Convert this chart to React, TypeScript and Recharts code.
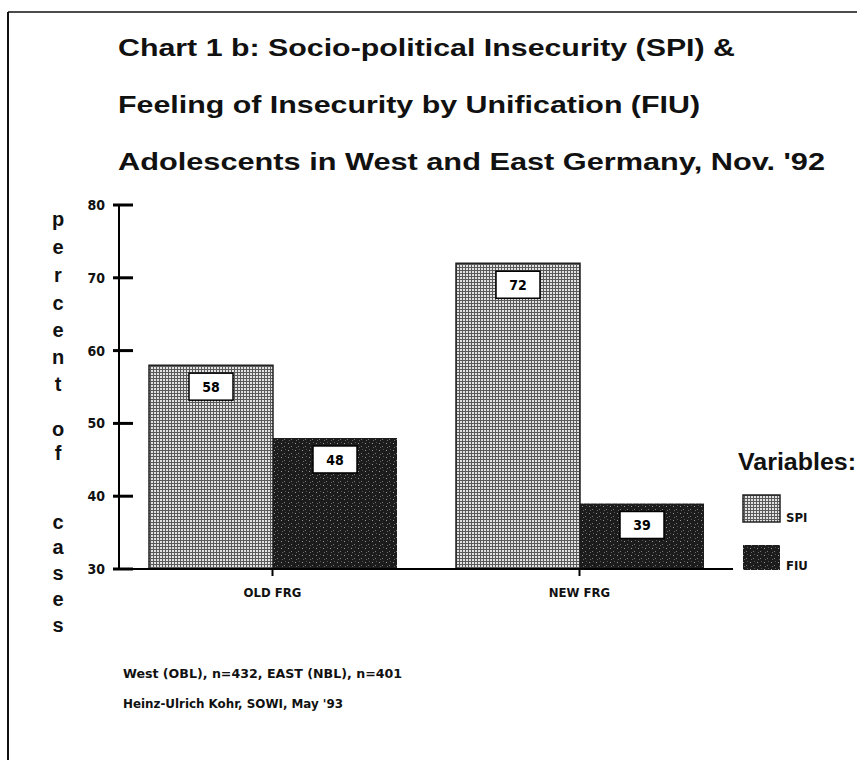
import React from "react";
import { BarChart, Bar, XAxis, YAxis, LabelList } from "recharts";

// values
const categories = ["OLD FRG", "NEW FRG"];
const spiValues = [58, 72];
const fiuValues = [48, 39];
const yTicks = [30, 40, 50, 60, 70, 80];

const titleLines = [
  "Chart 1 b: Socio-political Insecurity (SPI) &",
  "Feeling of Insecurity by Unification (FIU)",
  "Adolescents in West and East Germany, Nov. '92",
];
const titleWidths = [617, 582, 707];
const titleBaselines = [56, 113, 170];
const yLabelLetters = ["p", "e", "r", "c", "e", "n", "t", "o", "f", "c", "a", "s", "e", "s"];
const yLabelPos = [220, 248, 276, 304, 331, 358, 385, 430, 454, 523, 548, 574, 600, 626];
const notes = ["West (OBL), n=432, EAST (NBL), n=401", "Heinz-Ulrich Kohr, SOWI, May '93"];
const noteWidths = [279, 220];

const data = categories.map((name, i) => ({ name, SPI: spiValues[i], FIU: fiuValues[i] }));

const narrow = "'Liberation Sans Narrow', 'DejaVu Sans Condensed', sans-serif";
const bold = "'Liberation Sans', Arial, sans-serif";

const YTick = (props: any) => {
  const { x, y, payload } = props;
  return (
    <g>
      <line x1={x - 6} x2={x + 14} y1={y} y2={y} stroke="#000" strokeWidth={3} />
      <text x={x - 14} y={y} dy={5} textAnchor="end" fontFamily={narrow} fontWeight="bold" fontSize={14} fill="#111">
        {payload.value}
      </text>
    </g>
  );
};

const ValueBox = (props: any) => {
  const { x, y, width, value } = props;
  const cx = x + width / 2;
  return (
    <g>
      <rect x={cx - 22} y={y + 8} width={44} height={27} fill="#fff" stroke="#000" strokeWidth={1.5} />
      <text x={cx} y={y + 22} dy={5} textAnchor="middle" fontFamily={narrow} fontWeight="bold" fontSize={14} fill="#000">
        {value}
      </text>
    </g>
  );
};

export default function App() {
  return (
    <div style={{ position: "absolute", left: 0, top: 0, width: 857, height: 760, background: "#fff" }}>
      <BarChart
        width={857}
        height={760}
        data={data}
        margin={{ top: 205, right: 124, left: 59, bottom: 161 }}
        barGap={0}
      >
        <defs>
          <pattern id="spiFill" width="3" height="3" patternUnits="userSpaceOnUse">
            <rect width="3" height="3" fill="#e2e2e2" />
            <rect width="3" height="1" fill="#5a5a5a" />
            <rect width="1" height="3" fill="#5a5a5a" />
          </pattern>
          <pattern id="fiuFill" width="7" height="7" patternUnits="userSpaceOnUse">
            <rect width="7" height="7" fill="#1c1c1c" />
            <rect x="1" y="2" width="1" height="1" fill="#9a9a9a" />
            <rect x="4" y="5" width="1" height="1" fill="#7a7a7a" />
            <rect x="5" y="1" width="1" height="1" fill="#555" />
            <rect x="2" y="6" width="1" height="1" fill="#666" />
          </pattern>
        </defs>
        <XAxis
          dataKey="name"
          height={30}
          axisLine={{ stroke: "#000", strokeWidth: 2 }}
          tickLine={{ stroke: "#000", strokeWidth: 2 }}
          tickSize={7}
          tickMargin={12}
          tick={{ fontFamily: narrow, fontWeight: "bold", fontSize: 13, fill: "#111" }}
        />
        <YAxis
          width={60}
          domain={[30, 80]}
          ticks={yTicks}
          allowDataOverflow
          axisLine={{ stroke: "#000", strokeWidth: 2 }}
          tickLine={false}
          tickSize={0}
          tickMargin={0}
          tick={<YTick />}
        />
        <Bar dataKey="SPI" barSize={124} fill="url(#spiFill)" stroke="#222" strokeWidth={1.5} isAnimationActive={false}>
          <LabelList dataKey="SPI" content={<ValueBox />} />
        </Bar>
        <Bar dataKey="FIU" barSize={124} fill="url(#fiuFill)" isAnimationActive={false}>
          <LabelList dataKey="FIU" content={<ValueBox />} />
        </Bar>
      </BarChart>
      <svg
        width={857}
        height={760}
        style={{ position: "absolute", left: 0, top: 0, pointerEvents: "none" }}
      >
        <line x1={8} x2={857} y1={12} y2={12} stroke="#111" strokeWidth={1.5} />
        <line x1={8} x2={8} y1={12} y2={760} stroke="#111" strokeWidth={2} />
        {titleLines.map((t, i) => (
          <text
            key={t}
            x={118}
            y={titleBaselines[i]}
            textLength={titleWidths[i]}
            lengthAdjust="spacingAndGlyphs"
            fontFamily={bold}
            fontWeight="bold"
            fontSize={24}
            fill="#111"
          >
            {t}
          </text>
        ))}
        {yLabelLetters.map((l, i) => (
          <text key={i} x={58} y={yLabelPos[i]} dy={6} textAnchor="middle" fontFamily={bold} fontWeight="bold" fontSize={20} fill="#111">
            {l}
          </text>
        ))}
        <text x={738} y={470} textLength={118} lengthAdjust="spacingAndGlyphs" fontFamily={bold} fontWeight="bold" fontSize={23} fill="#111">
          Variables:
        </text>
        <rect x={743} y={495} width={37} height={27} fill="url(#spiFill)" stroke="#222" strokeWidth={1.5} />
        <text x={786} y={522} fontFamily={narrow} fontWeight="bold" fontSize={13} fill="#111">SPI</text>
        <rect x={743} y={545} width={37} height={25} fill="url(#fiuFill)" />
        <text x={786} y={570} fontFamily={narrow} fontWeight="bold" fontSize={13} fill="#111">FIU</text>
        {notes.map((n, i) => (
          <text
            key={n}
            x={123}
            y={678 + i * 30}
            textLength={noteWidths[i]}
            lengthAdjust="spacingAndGlyphs"
            fontFamily={narrow}
            fontWeight="bold"
            fontSize={13}
            fill="#111"
          >
            {n}
          </text>
        ))}
      </svg>
    </div>
  );
}
